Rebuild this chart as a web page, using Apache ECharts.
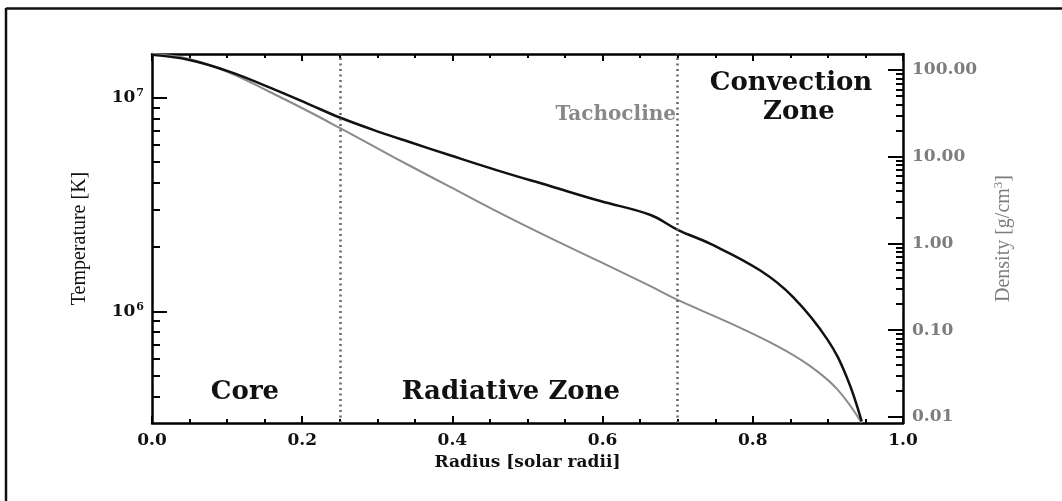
<!DOCTYPE html>
<html><head><meta charset="utf-8">
<script src="https://cdn.jsdelivr.net/npm/echarts@6/dist/echarts.min.js"></script>
<style>html,body{margin:0;padding:0;background:#fff}#c{width:1062px;height:501px}</style>
</head><body><div id="c"></div><script>
// ---- data ----
const radiusT = [0, 0.05, 0.104, 0.157, 0.21, 0.25, 0.304, 0.344, 0.397, 0.463, 0.53, 0.597, 0.663, 0.70, 0.743, 0.81, 0.854, 0.899, 0.925, 0.945];
const temperature = [1.585e7, 1.50e7, 1.32e7, 1.113e7, 9.28e6, 8.07e6, 6.88e6, 6.18e6, 5.37e6, 4.53e6, 3.855e6, 3.28e6, 2.83e6, 2.407e6, 2.072e6, 1.551e6, 1.162e6, 7.41e5, 4.93e5, 3.05e5];
const radiusRho = [0, 0.05, 0.104, 0.157, 0.21, 0.25, 0.304, 0.344, 0.397, 0.463, 0.53, 0.597, 0.663, 0.70, 0.766, 0.832, 0.876, 0.912, 0.945];
const density = [152.9, 133.9, 92.3, 55.8, 32.8, 21.45, 11.96, 7.82, 4.48, 2.247, 1.157, 0.612, 0.324, 0.223, 0.1245, 0.0658, 0.0387, 0.0210, 0.00853];
const zoneBounds = [0.25, 0.70];
const tempMajorTicks = [1e6, 1e7];
const tempMinorTicks = [4e5, 5e5, 6e5, 7e5, 8e5, 9e5, 2e6, 3e6, 4e6, 5e6, 6e6, 7e6, 8e6, 9e6];
const densMajorTicks = [0.01, 0.1, 1, 10, 100];
const densMinorTicks = [0.02,0.03,0.04,0.05,0.06,0.07,0.08,0.09,0.2,0.3,0.4,0.5,0.6,0.7,0.8,0.9,2,3,4,5,6,7,8,9,20,30,40,50,60,70,80,90];
const xRange = [0, 1];
const tempRange = [3e5, 1.6e7];
const densRange = [0.0085, 153];

const BF = 'DejaVu Serif';
const chart = echarts.init(document.getElementById('c'), null, {renderer: 'canvas'});
const axisLineS = {show: true, lineStyle: {color: '#000', width: 2.5}};
const tickS = w => ({color: '#000', width: w});
const tRow = radiusT.map((r, i) => [r, temperature[i]]);
const dRow = radiusRho.map((r, i) => [r, density[i]]);

const xBase = pos => ({
  type: 'value', min: xRange[0], max: xRange[1], interval: 0.2, position: pos, gridIndex: 0,
  axisLine: axisLineS,
  axisTick: {show: true, inside: true, length: 7, lineStyle: tickS(2)},
  minorTick: {show: true, splitNumber: 4, length: 4, lineStyle: tickS(2)},
  splitLine: {show: false}, minorSplitLine: {show: false}
});

const option = {
  animation: false,
  backgroundColor: '#fff',
  grid: {left: 152, right: 159, top: 54, bottom: 78, containLabel: false, outerBoundsMode: 'none'},
  xAxis: [
    Object.assign(xBase('bottom'), {
      axisLabel: {show: true, margin: 9, formatter: v => v.toFixed(1), fontFamily: BF, fontWeight: 'bold', fontSize: 17, color: '#111'},
      name: 'Radius [solar radii]', nameLocation: 'middle', nameGap: 30,
      nameTextStyle: {fontFamily: BF, fontWeight: 'bold', fontSize: 17, color: '#111'}
    }),
    Object.assign(xBase('top'), {axisLabel: {show: false}})
  ],
  yAxis: [
    {
      type: 'log', min: tempRange[0], max: tempRange[1], position: 'left',
      axisLine: axisLineS, splitLine: {show: false},
      axisTick: {show: true, inside: true, length: 15, customValues: tempMajorTicks, lineStyle: tickS(2)},
      axisLabel: {
        show: true, margin: 8, customValues: tempMajorTicks,
        formatter: v => '{b|10}{s|' + Math.round(Math.log10(v)) + '}',
        rich: {
          b: {fontFamily: BF, fontWeight: 'bold', fontSize: 17, color: '#111'},
          s: {fontFamily: BF, fontWeight: 'bold', fontSize: 11, color: '#111', verticalAlign: 'bottom', padding: [0, 0, 9, 1]}
        }
      },
      name: 'Temperature [K]', nameLocation: 'middle', nameGap: 62, nameRotate: 90,
      nameTextStyle: {fontFamily: 'Liberation Serif', fontSize: 20, color: '#111'}
    },
    {
      type: 'log', min: tempRange[0], max: tempRange[1], position: 'left',
      axisLine: {show: false}, splitLine: {show: false}, axisLabel: {show: false},
      axisTick: {show: true, inside: true, length: 8, customValues: tempMinorTicks, lineStyle: tickS(2)}
    },
    {
      type: 'log', min: densRange[0], max: densRange[1], position: 'right',
      axisLine: axisLineS, splitLine: {show: false},
      axisTick: {show: true, inside: true, length: 15, customValues: densMajorTicks, lineStyle: tickS(2)},
      axisLabel: {show: true, margin: 9, customValues: densMajorTicks, formatter: v => Number(v).toFixed(2),
        fontFamily: BF, fontWeight: 'bold', fontSize: 17, color: '#7d7d7d'},
      name: 'Density [g/cm{s|3}]', nameLocation: 'middle', nameGap: 89, nameRotate: 90,
      nameTextStyle: {fontFamily: 'Liberation Serif', fontSize: 20, color: '#7d7d7d',
        rich: {s: {fontFamily: 'Liberation Serif', fontSize: 13, color: '#7d7d7d', verticalAlign: 'bottom', padding: [0, 0, 10, 0]}}}
    },
    {
      type: 'log', min: densRange[0], max: densRange[1], position: 'right',
      axisLine: {show: false}, splitLine: {show: false}, axisLabel: {show: false},
      axisTick: {show: true, inside: true, length: 7, customValues: densMinorTicks, lineStyle: tickS(2)}
    }
  ],
  series: [
    {
      name: 'Density', type: 'line', xAxisIndex: 0, yAxisIndex: 2, data: dRow,
      showSymbol: false, smooth: 0.4, lineStyle: {color: '#8a8a8a', width: 2}, silent: true
    },
    {
      name: 'Temperature', type: 'line', xAxisIndex: 0, yAxisIndex: 0, data: tRow,
      showSymbol: false, smooth: 0.4, lineStyle: {color: '#111', width: 2.5}, silent: true,
      markLine: {
        silent: true, symbol: ['none', 'none'], label: {show: false},
        lineStyle: {color: '#666', width: 2.5, type: [2, 3.5]},
        data: zoneBounds.map(b => ({xAxis: b}))
      }
    }
  ],
  graphic: [
    {type: 'line', shape: {x1: 6, y1: 8.5, x2: 1062, y2: 8.5}, style: {stroke: '#111', lineWidth: 2.5}},
    {type: 'line', shape: {x1: 6, y1: 8, x2: 6, y2: 501}, style: {stroke: '#111', lineWidth: 2.5}},
    {type: 'text', x: 245, y: 392, style: {text: 'Core', align: 'center', verticalAlign: 'middle', font: 'bold 26px "DejaVu Serif"', fill: '#111'}},
    {type: 'text', x: 511, y: 392, style: {text: 'Radiative Zone', align: 'center', verticalAlign: 'middle', font: 'bold 26px "DejaVu Serif"', fill: '#111'}},
    {type: 'text', x: 791, y: 83, style: {text: 'Convection', align: 'center', verticalAlign: 'middle', font: 'bold 26px "DejaVu Serif"', fill: '#111'}},
    {type: 'text', x: 799, y: 112, style: {text: 'Zone', align: 'center', verticalAlign: 'middle', font: 'bold 26px "DejaVu Serif"', fill: '#111'}},
    {type: 'text', x: 676, y: 115, style: {text: 'Tachocline', align: 'right', verticalAlign: 'middle', font: 'bold 20px "DejaVu Serif"', fill: '#888'}}
  ]
};
chart.setOption(option);
</script></body></html>
